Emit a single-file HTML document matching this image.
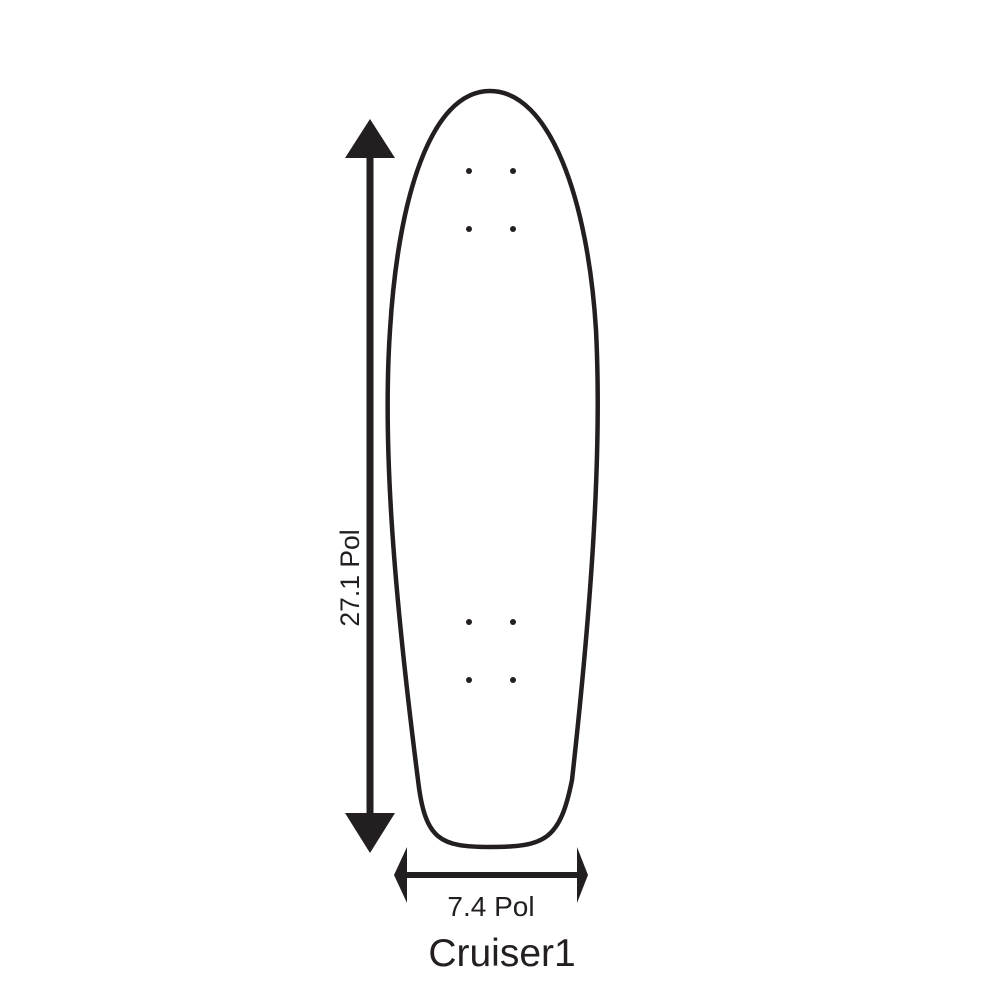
<!DOCTYPE html>
<html><head><style>html,body{margin:0;padding:0;background:#fff}</style></head>
<body>
<svg width="1000" height="1000" viewBox="0 0 1000 1000" xmlns="http://www.w3.org/2000/svg">
<rect width="1000" height="1000" fill="#fff"/>
<path d="M 490 91 C 430 91 398 200 390 330 C 382 450 395 600 418 780 C 425 840 440 847 490 847 C 545 847 560 840 572 780 C 592 600 602 450 596 330 C 588 200 550 91 490 91 Z" fill="none" stroke="#231f20" stroke-width="4.5"/>
<g fill="#231f20">
<circle cx="469" cy="171" r="3"/><circle cx="513" cy="171" r="3"/>
<circle cx="469" cy="229" r="3"/><circle cx="513" cy="229" r="3"/>
<circle cx="469" cy="622" r="3"/><circle cx="513" cy="622" r="3"/>
<circle cx="469" cy="680" r="3"/><circle cx="513" cy="680" r="3"/>
<rect x="366.5" y="150" width="7" height="670"/>
<polygon points="370,119 345,158 395,158"/>
<polygon points="370,853 345,813 395,813"/>
<rect x="400" y="872" width="182" height="6"/>
<polygon points="394,875 407,847 407,903"/>
<polygon points="588,875 577,847 577,903"/>
</g>
<text x="0" y="0" transform="translate(359,578) rotate(-90)" text-anchor="middle" font-family="Liberation Sans, sans-serif" font-size="26.5" fill="#231f20">27.1 Pol</text>
<text x="491" y="916" text-anchor="middle" font-family="Liberation Sans, sans-serif" font-size="28" fill="#231f20">7.4 Pol</text>
<text x="502" y="966" text-anchor="middle" font-family="Liberation Sans, sans-serif" font-size="39" fill="#231f20">Cruiser1</text>
</svg>
</body></html>
